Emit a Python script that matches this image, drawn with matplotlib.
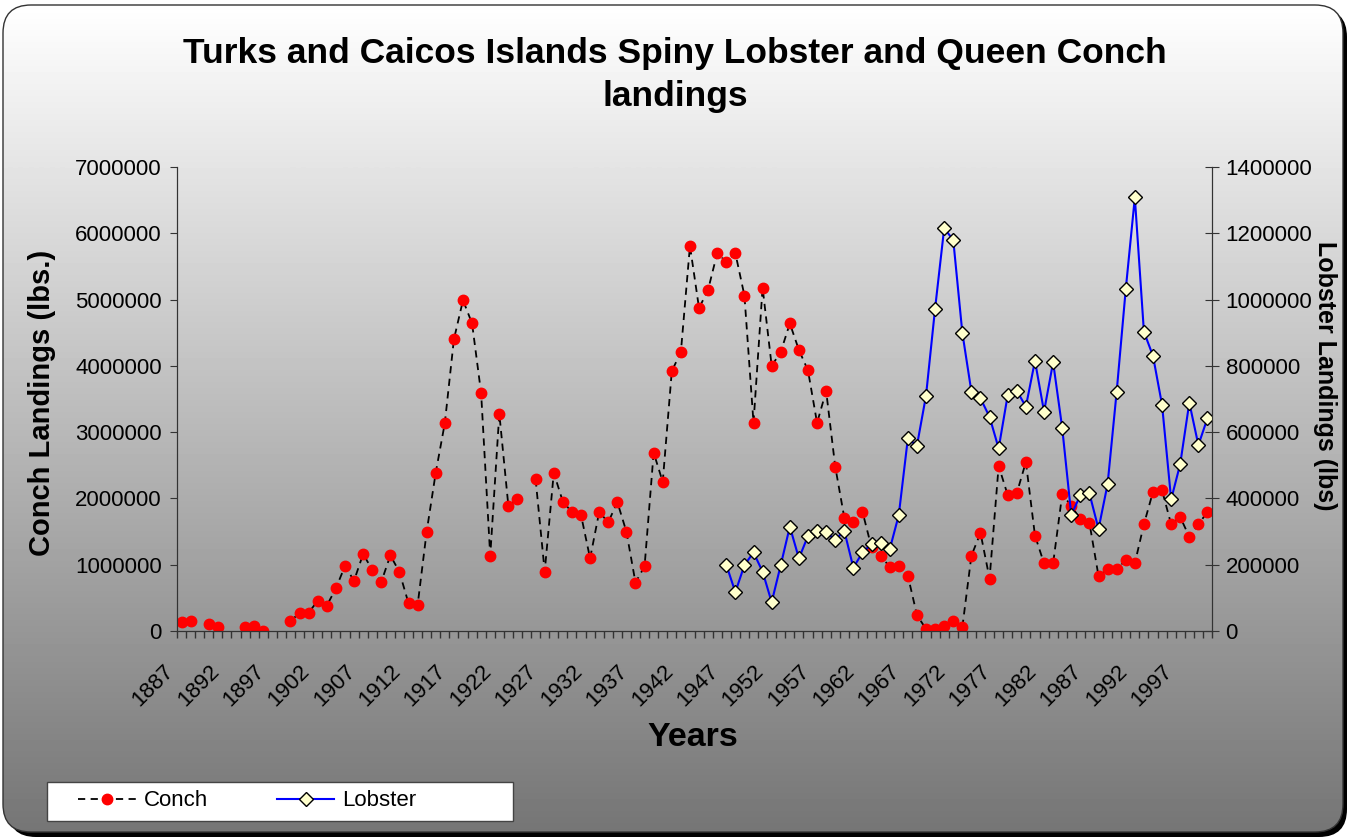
import numpy as np
import matplotlib
matplotlib.use("Agg")
import matplotlib.pyplot as plt
from matplotlib.patches import FancyBboxPatch, Rectangle
from matplotlib.ticker import StrMethodFormatter
from matplotlib.transforms import ScaledTranslation

plt.rcParams['font.family'] = ['Liberation Sans', 'DejaVu Sans']

years = np.arange(1887, 2001)
nan = np.nan
conch = [140000, 145000, nan, 110000, 55000, nan, nan, 55000, 80000, 5000,
         nan, nan, 146000, 276000, 276000, 457000, 382000, 644000, 980000, 759000,
         1161000, 925000, 739000, 1142000, 890000, 418000, 387000, 1500000, 2390000, 3137000,
         4400000, 4990000, 4640000, 3585000, 1131000, 3280000, 1885000, 1986000, nan, 2288000,
         895000, 2388000, 1950000, 1795000, 1750000, 1096000, 1795000, 1640000, 1946000, 1498000,
         730000, 975000, 2690000, 2250000, 3920000, 4210000, 5810000, 4870000, 5150000, 5700000,
         5570000, 5700000, 5060000, 3140000, 5180000, 4000000, 4210000, 4640000, 4240000, 3930000,
         3140000, 3620000, 2480000, 1710000, 1640000, 1800000, 1260000, 1130000, 970000, 980000,
         835000, 240000, 30000, 30000, 80000, 155000, 55000, 1136000, 1480000, 790000,
         2490000, 2050000, 2080000, 2550000, 1440000, 1020000, 1020000, 2060000, 1890000, 1685000,
         1630000, 830000, 930000, 930000, 1070000, 1020000, 1610000, 2100000, 2120000, 1610000,
         1720000, 1420000, 1610000, 1795000]

lobster_years = np.arange(1947, 2001)
lobster = [200000, 117000, 199000, 237000, 179000, 87000, 199000, 315000, 219000, 287000,
           302000, 298000, 275000, 302000, 191000, 237000, 262000, 266000, 246000, 350000,
           581000, 559000, 710000, 973000, 1215000, 1180000, 900000, 722000, 702000, 646000,
           551000, 712000, 725000, 677000, 815000, 662000, 811000, 613000, 350000, 410000,
           415000, 308000, 443000, 722000, 1031000, 1308000, 903000, 830000, 682000, 397000,
           504000, 689000, 561000, 642000]

tick_years = np.arange(1887, 2001, 5)

W, H = 1351, 839
fig = plt.figure(figsize=(W / 100, H / 100), dpi=100)
fig.patch.set_facecolor('white')

# background frame with gradient and shadow
bg = fig.add_axes([0, 0, 1, 1])
bg.axis('off')
shadow = FancyBboxPatch((8, 9), 1339, 828, boxstyle="round,pad=0,rounding_size=28",
                        fc='black', ec='none', zorder=0)
bg.add_patch(shadow)
frame = FancyBboxPatch((3, 5), 1340, 827, boxstyle="round,pad=0,rounding_size=28",
                       fc='none', ec='#333333', lw=1, zorder=2)
bg.add_patch(frame)
grad = np.linspace(1.0, 0.46, 256).reshape(-1, 1)
img = bg.imshow(grad, cmap='gray', vmin=0, vmax=1, extent=(3, 1343, 832, 5),
                aspect='auto', interpolation='bilinear', zorder=1)
img.set_clip_path(frame)
bg.set_xlim(0, W)
bg.set_ylim(H, 0)
bg.add_patch(Rectangle((47, 782), 466, 39, fc='white', ec='#444444', lw=1, zorder=3))

ax = fig.add_axes([177 / W, 1 - 631 / H, (1212 - 177) / W, (631 - 167) / H])
ax.patch.set_alpha(0)
ax2 = ax.twinx()

l1, = ax.plot(years, conch, color='black', lw=1.3, dashes=(4, 3),
              marker='o', ms=7.5, mfc='red', mec='red', label='Conch')
l2, = ax2.plot(lobster_years, lobster, color='blue', lw=1.5,
               marker='D', ms=7.5, mfc='#ffffcc', mec='black', mew=1, label='Lobster')

ax.set_xlim(1886.5, 2000.5)
ax.set_ylim(0, 7000000)
ax2.set_ylim(0, 1400000)
ax.set_yticks(np.arange(0, 7000001, 1000000))
ax2.set_yticks(np.arange(0, 1400001, 200000))
ax.yaxis.set_major_formatter(StrMethodFormatter('{x:.0f}'))
ax2.yaxis.set_major_formatter(StrMethodFormatter('{x:.0f}'))
# tick marks sit between categories, labels at category centres
ax.set_xticks(np.arange(1886.5, 2001, 1), minor=True)
ax.set_xticks(tick_years)
ax.set_xticklabels([str(y) for y in tick_years], rotation=45, ha='right', va='center',
                   rotation_mode='anchor', fontsize=16)
ax.tick_params(axis='x', which='minor', direction='out', length=5, width=1, color='#333333')
ax.tick_params(axis='x', which='major', length=0, pad=27)
ax.tick_params(axis='y', direction='out', length=5, color='#333333', labelsize=16, pad=6)
ax2.tick_params(axis='y', direction='inout', length=9.5, color='#333333', labelsize=16, pad=5)
shift = ScaledTranslation(-11 / 100, 0, fig.dpi_scale_trans)
for lab in ax.get_xticklabels():
    lab.set_transform(lab.get_transform() + shift)

for a in (ax, ax2):
    a.spines['top'].set_visible(False)
    a.spines['left'].set_color('#333333')
    a.spines['right'].set_color('#333333')
    a.spines['bottom'].set_color('#333333')

fig.text(42 / W, 1 - 403 / H, 'Conch Landings (lbs.)', rotation=90, ha='center', va='center',
         fontsize=21, fontweight='bold')
fig.text(1325 / W, 1 - 376 / H, 'Lobster Landings (lbs)', rotation=270, ha='center', va='center',
         fontsize=18, fontweight='bold')
fig.text(693 / W, 1 - 738 / H, 'Years', ha='center', va='center', fontsize=24.5, fontweight='bold')

fig.text(675 / W, 1 - 75 / H, 'Turks and Caicos Islands Spiny Lobster and Queen Conch\nlandings',
         ha='center', va='center', fontsize=25.5, fontweight='bold', linespacing=1.35)

leg = fig.legend(handles=[l1, l2], loc='center left',
                 bbox_to_anchor=(78 / W, 1 - 801 / H), ncol=2, fontsize=16, frameon=False,
                 handlelength=2.6, handletextpad=0.35, columnspacing=3.1, borderpad=0,
                 borderaxespad=0)
leg.set_zorder(5)

fig.savefig('out.png', dpi=100)
